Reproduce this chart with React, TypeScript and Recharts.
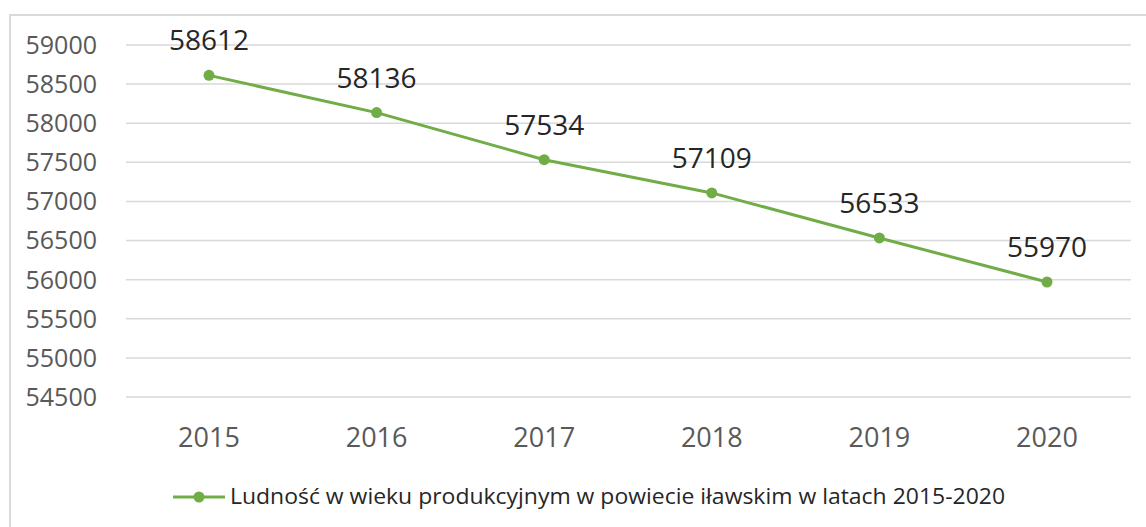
import React from 'react';
import { LineChart, Line, XAxis, YAxis, CartesianGrid, LabelList, Legend } from 'recharts';

const years = ['2015', '2016', '2017', '2018', '2019', '2020'];
const population = [58612, 58136, 57534, 57109, 56533, 55970];
const yTicks = [54500, 55000, 55500, 56000, 56500, 57000, 57500, 58000, 58500, 59000];
const seriesName = 'Ludność w wieku produkcyjnym w powiecie iławskim w latach 2015-2020';

const data = years.map((y, i) => ({ year: y, value: population[i] }));

const FONT = '"Open Sans", sans-serif';
const GREEN = '#70AD47';

const LegendContent = () => (
  <svg width={1146} height={40} style={{ display: 'block' }}>
    <line x1={173} y1={20} x2={225} y2={20} stroke={GREEN} strokeWidth={3} />
    <circle cx={199} cy={20} r={5.5} fill={GREEN} />
    <text
      x={230}
      y={27}
      fontFamily={FONT}
      fontSize={22}
      fill="#262626"
      textLength={775}
      lengthAdjust="spacingAndGlyphs"
    >
      {seriesName}
    </text>
  </svg>
);

export default function App() {
  return (
    <div style={{ position: 'relative', width: 1146, height: 527, overflow: 'hidden', background: '#fff' }}>
      <style>{`body{margin:0;}`}</style>
      <div
        style={{
          position: 'absolute',
          left: 9,
          top: 14,
          width: 1300,
          height: 700,
          border: '2px solid #d9d9d9',
          boxSizing: 'border-box',
        }}
      />
      <div style={{ position: 'absolute', left: 0, top: 0 }}>
        <LineChart
          width={1146}
          height={527}
          data={data}
          margin={{ top: 45, right: 15, left: 0, bottom: 10 }}
        >
          <CartesianGrid vertical={false} stroke="#d9d9d9" strokeWidth={1.5} />
          <XAxis
            dataKey="year"
            tickLine={false}
            axisLine={false}
            tickSize={0}
            tickMargin={31}
            height={80}
            interval={0}
            padding={{ left: 83, right: 84 }}
            tick={{ fontSize: 27, fill: '#595959', fontFamily: FONT }}
          />
          <YAxis
            domain={[54500, 59000]}
            ticks={yTicks}
            interval={0}
            width={126}
            tickLine={false}
            axisLine={false}
            tickSize={0}
            tickMargin={29}
            tick={{ fontSize: 25, fill: '#595959', fontFamily: FONT }}
          />
          <Legend
            verticalAlign="bottom"
            wrapperStyle={{ left: 0, width: 1146 }}
            content={() => <LegendContent />}
          />
          <Line
            type="linear"
            dataKey="value"
            name={seriesName}
            stroke={GREEN}
            strokeWidth={3}
            dot={{ r: 5.5, fill: GREEN, stroke: GREEN, strokeWidth: 0 }}
            activeDot={false}
            isAnimationActive={false}
          >
            <LabelList
              dataKey="value"
              position="top"
              offset={25}
              style={{ fontSize: 28, fill: '#262626', fontFamily: FONT }}
            />
          </Line>
        </LineChart>
      </div>
    </div>
  );
}
